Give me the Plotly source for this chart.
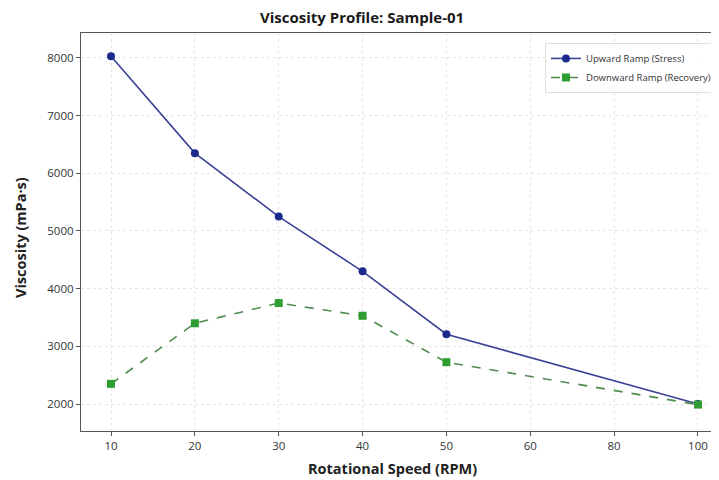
import plotly.graph_objects as go

speeds = ["10", "20", "30", "40", "50", "100"]
speed_ticks = ["10", "20", "30", "40", "50", "60", "80", "100"]
upward = [8030, 6350, 5250, 4300, 3210, 2000]
downward = [2350, 3400, 3750, 3530, 2725, 1990]

fig = go.Figure()
fig.add_trace(go.Scatter(
    x=speeds, y=upward, mode="lines+markers", name="Upward Ramp (Stress)",
    line=dict(color="#3b4296", width=1.6),
    marker=dict(symbol="circle", size=8, color="#1c2a8c"),
))
fig.add_trace(go.Scatter(
    x=speeds, y=downward, mode="lines+markers", name="Downward Ramp (Recovery)",
    line=dict(color="#4f8a4f", width=1.6, dash="dash"),
    marker=dict(symbol="square", size=8, color="#2e9e33"),
))

font_family = "Open Sans, DejaVu Sans, sans-serif"
fig.update_layout(
    width=711, height=472,
    margin=dict(l=73, r=2, t=25, b=49, autoexpand=False),
    paper_bgcolor="white", plot_bgcolor="white",
    font=dict(family=font_family, color="#222222"),
    title=dict(text="<b>Viscosity Profile: Sample-01</b>", x=0.498, xanchor="center",
               y=0.979, yanchor="middle", font=dict(size=15, color="#1a1a1a")),
    legend=dict(x=1.0, y=0.975, xanchor="right", yanchor="top",
                bgcolor="rgba(255,255,255,0.9)", bordercolor="#dddddd", borderwidth=1,
                font=dict(size=9.5, color="#333333")),
    showlegend=True,
    annotations=[
        dict(text="<b>Rotational Speed (RPM)</b>", xref="paper", yref="paper",
             x=0.489, y=-0.094, xanchor="center", yanchor="middle", showarrow=False,
             font=dict(size=14.5, color="#222222")),
        dict(text="<b>Viscosity (mPa·s)</b>", xref="paper", yref="paper",
             x=-0.0943, y=0.485, xanchor="center", yanchor="middle", showarrow=False,
             textangle=-90, font=dict(size=14.5, color="#222222")),
    ],
)
fig.update_xaxes(
    type="category", categoryorder="array", categoryarray=speed_ticks,
    tickvals=speed_ticks, ticktext=speed_ticks,
    range=[-0.358, 7.227], automargin=False,
    showline=True, linecolor="#555555", linewidth=1.2, mirror=True,
    ticks="outside", ticklen=4, tickcolor="#555555",
    showgrid=True, gridcolor="#e6e6e6", griddash="dot", gridwidth=1,
    tickfont=dict(size=11.5, color="#333333"),
    zeroline=False,
)
fig.update_yaxes(
    range=[1532, 8433], tickvals=[2000, 3000, 4000, 5000, 6000, 7000, 8000],
    automargin=False,
    showline=True, linecolor="#555555", linewidth=1.2, mirror=True,
    ticks="outside", ticklen=4, tickcolor="#555555",
    showgrid=True, gridcolor="#e6e6e6", griddash="dot", gridwidth=1,
    tickfont=dict(size=11.5, color="#333333"),
    zeroline=False,
)

fig.write_html("out.html")
